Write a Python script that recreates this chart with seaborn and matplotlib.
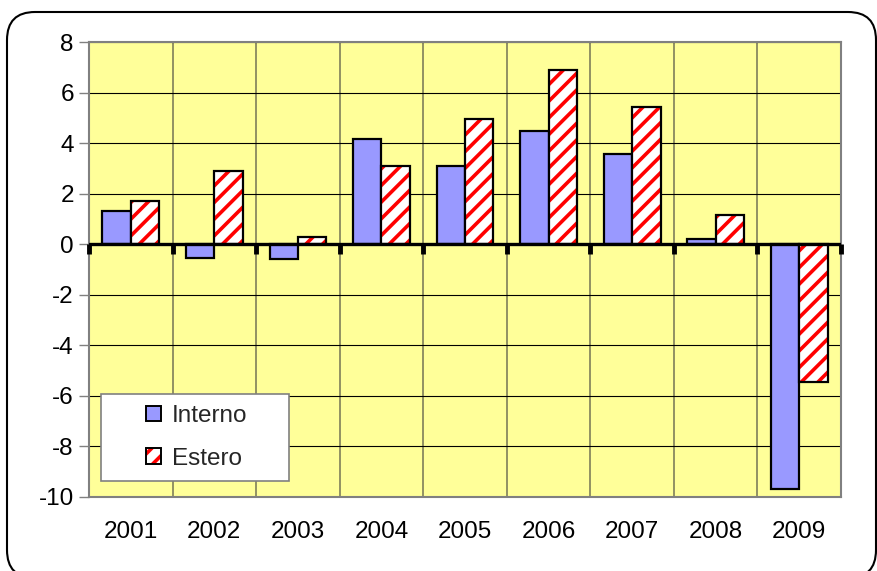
import matplotlib
matplotlib.use("Agg")
import matplotlib.pyplot as plt
import matplotlib.patches as mpatches
from matplotlib.legend_handler import HandlerTuple
from matplotlib.transforms import IdentityTransform
import numpy as np
import pandas as pd
import seaborn as sns

# ── data ───────────────────────────────────────────────────────────────────────
years   = ["2001", "2002", "2003", "2004", "2005", "2006", "2007", "2008", "2009"]
interno = [1.33, -0.52, -0.57, 4.17, 3.11, 4.50, 3.59, 0.20, -9.68]
estero  = [1.72, 2.91, 0.31, 3.11, 4.96, 6.93, 5.43, 1.17, -5.43]
series  = ["Interno", "Estero"]
yticks  = list(range(-10, 9, 2))

BLUE   = "#9999ff"
YELLOW = "#ffff99"
VGRID  = "#7f7f5a"
FRAME  = "#808080"
FS     = 17.5

df = pd.DataFrame({
    "anno":   years * 2,
    "serie":  [series[0]] * len(years) + [series[1]] * len(years),
    "valore": interno + estero,
})

sns.set_theme(style="white")
plt.rcParams["font.family"] = ["Liberation Sans", "DejaVu Sans"]
plt.rcParams["axes.unicode_minus"] = False
plt.rcParams["hatch.linewidth"] = 2.6

fig = plt.figure(figsize=(8.78, 5.71), dpi=100)
ax = fig.add_axes([0.1014, 0.1296, 0.8565, 0.796])
ax.set_facecolor(YELLOW)

sns.barplot(data=df, x="anno", y="valore", hue="serie", order=years,
            hue_order=series, palette=[BLUE, "white"], saturation=1,
            width=0.68, edgecolor="black", linewidth=1.6, errorbar=None,
            legend=False, ax=ax, zorder=3)

# red diagonal stripes for "Estero" (hatch colour follows edge colour,
# so draw the black outline as a separate rectangle on top)
for bar in ax.containers[1]:
    bar.set_hatch("//")
    bar.set_edgecolor("red")
    bar.set_linewidth(0)
    ax.add_patch(mpatches.Rectangle(bar.get_xy(), bar.get_width(), bar.get_height(),
                                    fill=False, ec="black", lw=1.6, zorder=4))

# ── axes cosmetics ─────────────────────────────────────────────────────────────
n = len(years)
bounds = np.arange(n + 1) - 0.5
ax.set_xlim(-0.5, n - 0.5)
ax.set_ylim(min(yticks), max(yticks))
ax.set_yticks(yticks)
ax.set_xticks(bounds, minor=True)
ax.set_axisbelow(True)
ax.grid(which="major", axis="y", color="black", lw=0.8)
ax.grid(which="major", axis="x", visible=False)
ax.grid(which="minor", axis="x", color=VGRID, lw=1.2)
ax.set_xlabel("")
ax.set_ylabel("")

ax.tick_params(axis="y", which="major", left=True, length=7, width=1,
               color=FRAME, labelsize=FS, pad=4, labelcolor="black")
ax.tick_params(axis="x", which="both", bottom=False, length=0,
               labelsize=FS, pad=17, labelcolor="black")
for sp in ax.spines.values():
    sp.set_color(FRAME)
    sp.set_linewidth(1.5)

# zero line with category tick marks
ax.axhline(0, color="black", lw=2.4, zorder=5)
ax.plot(bounds, np.zeros(len(bounds)), ls="none", marker=3, ms=7, mew=3.5,
        color="black", zorder=5, clip_on=False)

# ── legend ─────────────────────────────────────────────────────────────────────
ax.add_patch(mpatches.Rectangle((0.016, 0.035), 0.25, 0.192, transform=ax.transAxes,
                                fc="white", ec=FRAME, lw=1.2, zorder=6))
h_int = mpatches.Patch(fc=BLUE, ec="black", lw=1.4)
h_est_fill = mpatches.Patch(fc="white", ec="red", lw=0, hatch="//")
h_est_edge = mpatches.Patch(fill=False, ec="black", lw=1.4)
leg = ax.legend([h_int, (h_est_fill, h_est_edge)], series,
                handler_map={tuple: HandlerTuple(ndivide=1, pad=0)},
                loc="center", bbox_to_anchor=(0.143, 0.131), frameon=False,
                fontsize=FS, handlelength=0.62, handleheight=0.62,
                handletextpad=0.45, labelspacing=0.85)
leg.set_zorder(7)

# rounded outer border
fig.add_artist(mpatches.FancyBboxPatch((7, -7), 869, 566,
                                       boxstyle="round,pad=0,rounding_size=28",
                                       transform=IdentityTransform(),
                                       fill=False, ec="black", lw=1.5))

fig.savefig("out.png", dpi=100)
